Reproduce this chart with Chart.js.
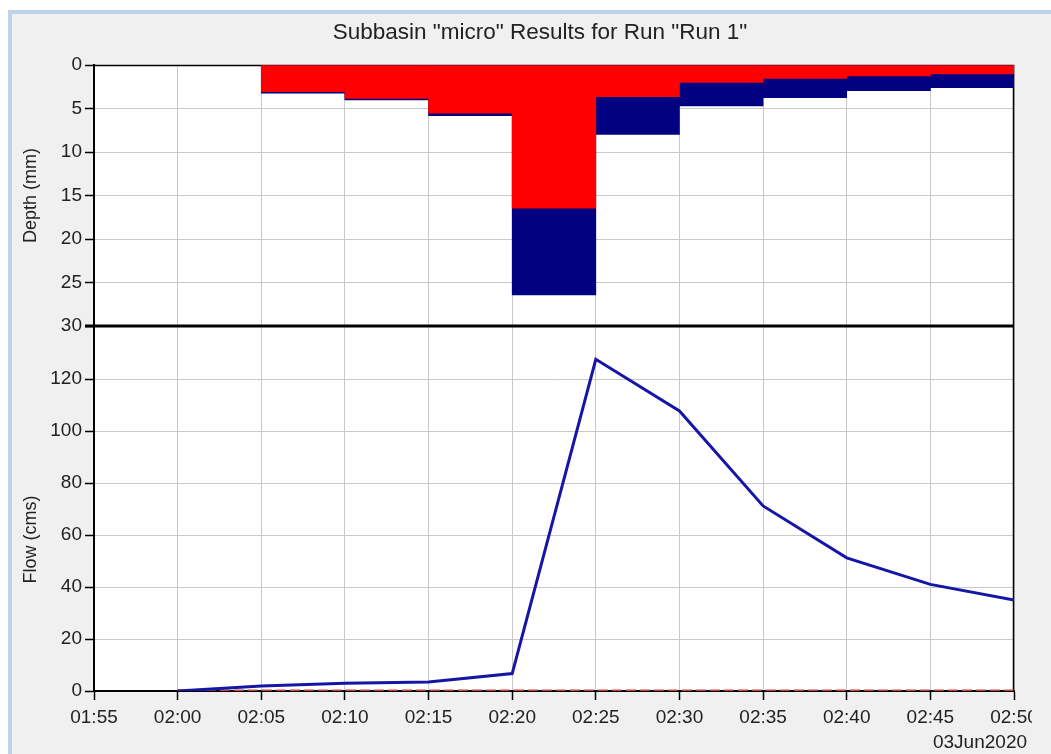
<!DOCTYPE html>
<html>
<head>
<meta charset="utf-8">
<title>Subbasin "micro" Results for Run "Run 1"</title>
<script src="https://cdn.jsdelivr.net/npm/chart.js@4.4.1/dist/chart.umd.min.js"></script>
<style>
  html, body { margin: 0; padding: 0; background: #ffffff; overflow: hidden; width: 1051px; height: 754px; }
  #frame { position: absolute; left: 8px; top: 10px; width: 1043px; height: 744px; background: #bcd3ea; }
  #panel { position: absolute; left: 12px; top: 14px; width: 1039px; height: 740px; background: #f0f0f0; }
  #clip { position: absolute; left: 0; top: 0; width: 1032px; height: 754px; overflow: hidden; }
  #c { position: absolute; left: 0; top: 0; }
</style>
</head>
<body>
<div id="frame"></div>
<div id="panel"></div>
<div id="clip"><canvas id="c" width="1060" height="754"></canvas></div>
<script>
// Time axis tick labels (5-minute steps)
const tickLabels = ['01:55', '02:00', '02:05', '02:10', '02:15', '02:20',
                    '02:25', '02:30', '02:35', '02:40', '02:45', '02:50'];
const dateLabel = '03Jun2020';

// Flow hydrograph (cms)
const flowTimes = ['02:00', '02:05', '02:10', '02:15', '02:20', '02:25',
                   '02:30', '02:35', '02:40', '02:45', '02:50'];
const outflow  = [0, 1.9, 3.0, 3.5, 6.7, 127.6, 107.7, 71.2, 51.2, 41.0, 35.0];
const baseflow = [0, 0, 0, 0, 0, 0, 0, 0, 0, 0, 0];

// Incremental depths (mm) for each 5-minute period, keyed by period start
const depthPeriodStart = ['02:05', '02:10', '02:15', '02:20', '02:25',
                          '02:30', '02:35', '02:40', '02:45'];
const precipDepth = [3.25, 4.02, 5.83, 26.44, 7.97, 4.71, 3.76, 2.95, 2.61];
const lossDepth   = [3.07, 3.83, 5.55, 16.47, 3.64, 1.99, 1.53, 1.26, 1.03];

const FONT = '"Liberation Sans", Arial, sans-serif';
const TEXT = '#222222';
const PERIOD = 5;

// minutes since the first tick (01:55)
function toMin(hhmm) {
  const [h, m] = hhmm.split(':').map(Number);
  const [h0, m0] = tickLabels[0].split(':').map(Number);
  return (h * 60 + m) - (h0 * 60 + m0);
}

const outflowPts  = flowTimes.map((t, i) => ({ x: toMin(t), y: outflow[i] }));
const baseflowPts = flowTimes.map((t, i) => ({ x: toMin(t), y: baseflow[i] }));
const precipPts   = depthPeriodStart.map((t, i) => ({ x: toMin(t) + PERIOD / 2, y: precipDepth[i] }));
const lossPts     = depthPeriodStart.map((t, i) => ({ x: toMin(t) + PERIOD / 2, y: lossDepth[i] }));

const framePlugin = {
  id: 'frame',
  beforeDraw(chart) {
    const { ctx, chartArea: a } = chart;
    ctx.save();
    ctx.fillStyle = '#ffffff';
    ctx.fillRect(a.left, a.top, a.right - a.left, a.bottom - a.top);
    ctx.restore();
  },
  beforeDatasetsDraw(chart) {
    const { ctx, chartArea: a } = chart;
    ctx.save();
    ctx.strokeStyle = '#000000';
    ctx.lineWidth = 1.5;
    ctx.beginPath();
    ctx.moveTo(a.left, a.top + 0.5);
    ctx.lineTo(a.right, a.top + 0.5);
    ctx.moveTo(a.right - 0.5, a.top);
    ctx.lineTo(a.right - 0.5, a.bottom);
    ctx.stroke();
    ctx.restore();
  },
  afterDatasetsDraw(chart) {
    const { ctx, chartArea: a } = chart;
    const yd = chart.scales.yDepth;
    ctx.save();
    ctx.strokeStyle = '#000000';
    ctx.lineWidth = 3;
    ctx.beginPath();
    ctx.moveTo(a.left - 9, yd.bottom);
    ctx.lineTo(a.right, yd.bottom);
    ctx.stroke();
    ctx.restore();
  },
  afterDraw(chart) {
    const { ctx } = chart;
    const yd = chart.scales.yDepth;
    const yf = chart.scales.yFlow;
    ctx.save();
    ctx.fillStyle = TEXT;
    ctx.textAlign = 'center';
    ctx.textBaseline = 'middle';
    ctx.font = '22.5px ' + FONT;
    ctx.fillText('Subbasin "micro" Results for Run "Run 1"', 540, 33);

    ctx.font = '18px ' + FONT;
    ctx.save();
    ctx.translate(31, (yd.top + yd.bottom) / 2);
    ctx.rotate(-Math.PI / 2);
    ctx.fillText('Depth (mm)', 0, 0);
    ctx.restore();
    ctx.save();
    ctx.translate(31, yf.top + (yf.bottom - yf.top) * 0.585);
    ctx.rotate(-Math.PI / 2);
    ctx.fillText('Flow (cms)', 0, 0);
    ctx.restore();

    ctx.font = '19px ' + FONT;
    ctx.fillText(dateLabel, 980, 743);
    ctx.restore();
  }
};

const tickFont = { family: FONT, size: 19 };
const gridStyle = { color: '#c8c8c8', lineWidth: 1, tickColor: '#000000', tickLength: 9, tickWidth: 1.5, offset: false };

new Chart(document.getElementById('c'), {
  type: 'line',
  data: {
    datasets: [
      {
        type: 'line', label: 'Baseflow', data: baseflowPts, yAxisID: 'yFlow',
        borderColor: '#c0453f', borderWidth: 3, borderDash: [10, 4],
        pointRadius: 0, fill: false, order: 2
      },
      {
        type: 'line', label: 'Outflow', data: outflowPts, yAxisID: 'yFlow',
        borderColor: '#1616a6', borderWidth: 3, tension: 0,
        pointRadius: 0, fill: false, order: 1
      },
      {
        type: 'bar', label: 'Loss', data: lossPts, yAxisID: 'yDepth',
        backgroundColor: '#ff0000', borderWidth: 0, grouped: false,
        barPercentage: 1, categoryPercentage: 1, order: 3
      },
      {
        type: 'bar', label: 'Precipitation', data: precipPts, yAxisID: 'yDepth',
        backgroundColor: '#000080', borderWidth: 0, grouped: false,
        barPercentage: 1, categoryPercentage: 1, order: 4
      }
    ]
  },
  options: {
    responsive: false,
    animation: false,
    events: [],
    layout: { padding: { top: 65, left: 0, right: 46, bottom: 0 }, autoPadding: false },
    plugins: { legend: { display: false }, tooltip: { enabled: false }, title: { display: false } },
    scales: {
      x: {
        type: 'linear', min: 0, max: (tickLabels.length - 1) * PERIOD, offset: false,
        ticks: {
          stepSize: PERIOD, autoSkip: false, maxRotation: 0, minRotation: 0,
          font: tickFont, color: TEXT, padding: 6,
          callback: (v) => tickLabels[Math.round(v / PERIOD)]
        },
        grid: gridStyle,
        border: { color: '#000000', width: 2 },
        afterFit(s) { s.height = 63; s.paddingLeft = 0; s.paddingRight = 0; }
      },
      yFlow: {
        type: 'linear', position: 'left', stack: 'panels', stackWeight: 365,
        min: 0, max: 140.4, offset: false,
        ticks: { stepSize: 20, autoSkip: false, font: tickFont, color: TEXT, padding: 3 },
        afterBuildTicks(s) { s.ticks = s.ticks.filter(t => t.value <= 120); },
        grid: gridStyle,
        border: { color: '#000000', width: 2 },
        afterFit(s) { s.width = 94; s.paddingTop = 0; s.paddingBottom = 0; }
      },
      yDepth: {
        type: 'linear', position: 'left', stack: 'panels', stackWeight: 261,
        reverse: true, min: 0, max: 30, offset: false,
        ticks: { stepSize: 5, autoSkip: false, font: tickFont, color: TEXT, padding: 3 },
        grid: gridStyle,
        border: { color: '#000000', width: 2 },
        afterFit(s) { s.width = 94; s.paddingTop = 0; s.paddingBottom = 0; }
      }
    }
  },
  plugins: [framePlugin]
});
</script>
</body>
</html>
